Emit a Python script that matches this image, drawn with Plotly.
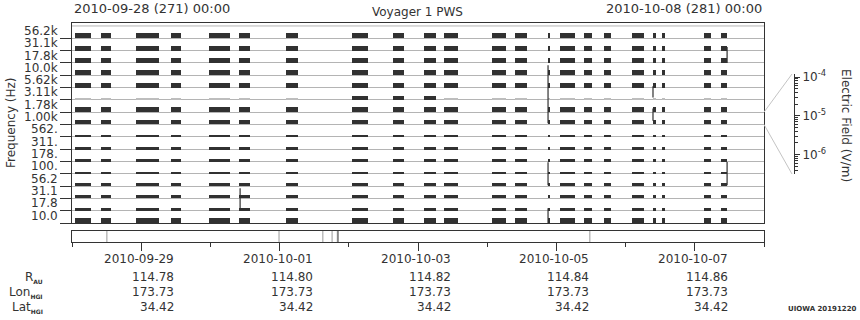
import plotly.graph_objects as go

# ---------------- data ----------------
freq_labels = ["10.0", "17.8", "31.1", "56.2", "100.", "178.", "311.", "562.",
               "1.00k", "1.78k", "3.11k", "5.62k", "10.0k", "17.8k", "31.1k", "56.2k"]
# data intervals, hours after 2010-09-28 00:00
seg_start = [1.0, 10.1, 22.2, 34.3, 47.5, 57.9, 74.2, 97.1, 111.3, 122.1, 129.0,
             145.7, 153.6, 165.1, 169.2, 177.6, 184.5, 194.2, 201.5, 204.6, 219.2, 225.1]
seg_end = [6.5, 13.5, 30.2, 37.8, 54.8, 61.7, 78.4, 102.7, 115.1, 126.2, 133.9,
           150.5, 157.8, 165.8, 174.4, 180.3, 186.9, 198.4, 202.5, 205.7, 221.6, 227.2]
# signal height per channel (in row units)
row_height = [0.40, 0.25, 0.30, 0.25, 0.16, 0.16, 0.16, 0.16,
              0.40, 0.40, 0.12, 0.40, 0.40, 0.40, 0.40, 0.40]
# 3.11k channel: which intervals show strong signal
row10_dark = [0, 0, 0, 0, 0, 0, 0, 1, 1, 1, 0, 0, 0, 0, 0, 0, 0, 0, 0, 0, 0, 0]
# spikes (time, low row, high row)
spike_time = [58.3, 165.1, 165.1, 165.1, 201.5, 201.5, 227.2, 227.2]
spike_lo = [1.03, 8.1, 3.07, 0.0, 10.2, 8.3, 13.0, 3.07]
spike_hi = [2.82, 12.8, 4.94, 1.2, 11.1, 9.3, 14.3, 4.96]
# events in lower strip
event_time = [12.1, 71.8, 87.0, 90.2, 92.2, 179.6]
event_width = [1, 1, 1, 1, 2, 1]
# lower axis
day_ticks = [24, 72, 120, 168, 216]
minor_day_ticks = [0, 48, 96, 144, 192, 240]
day_labels = ["2010-09-29", "2010-10-01", "2010-10-03", "2010-10-05", "2010-10-07"]
r_au = ["114.78", "114.80", "114.82", "114.84", "114.86"]
lon_hgi = ["173.73", "173.73", "173.73", "173.73", "173.73"]
lat_hgi = ["34.42", "34.42", "34.42", "34.42", "34.42"]
ef_major = [1e-6, 1e-5, 1e-4]
ef_labels = ["10<sup>-6</sup>", "10<sup>-5</sup>", "10<sup>-4</sup>"]

# ---------------- geometry ----------------
W, H = 860, 320
L, RM, RA = 72, 764, 800
T, BM, BA = 23, 223, 242
PW, PH = RA - L, BA - T
YTOP = 16.24


def px_x(p):
    return (p - L) / PW


def px_y(p):
    return (BA - p) / PH


y_main_dom = [px_y(BM), 1.0]


def row_paper(r):
    return y_main_dom[0] + r / YTOP * (y_main_dom[1] - y_main_dom[0])


INK = "#333333"
BAR = "#313131"
GRID = "#b4b4b4"
FONT = "DejaVu Sans"

fig = go.Figure()

# bars
bx, bw, bb, bh, bc = [], [], [], [], []
for r in range(len(freq_labels)):
    for k, (s, e) in enumerate(zip(seg_start, seg_end)):
        h = row_height[r]
        col = BAR
        if r == 10:
            if row10_dark[k]:
                h = 0.30
            else:
                col = "#bdbdbd"
        bx.append((s + e) / 2)
        bw.append(e - s)
        bb.append(r)
        bh.append(h)
        bc.append(col)
fig.add_trace(go.Bar(x=bx, y=bh, base=bb, width=bw, marker=dict(color=bc, line=dict(width=0)),
                     xaxis="x", yaxis="y", showlegend=False, hoverinfo="skip"))

# spikes
sx, sy = [], []
for t, a, b in zip(spike_time, spike_lo, spike_hi):
    sx += [t, t, None]
    sy += [a, b, None]
fig.add_trace(go.Scatter(x=sx, y=sy, mode="lines", line=dict(color=BAR, width=1.2),
                         xaxis="x", yaxis="y", showlegend=False, hoverinfo="skip"))

# events strip
for wdt in sorted(set(event_width)):
    ex, ey = [], []
    for t, w in zip(event_time, event_width):
        if w == wdt:
            ex += [t, t, None]
            ey += [0, 1, None]
    fig.add_trace(go.Scatter(x=ex, y=ey, mode="lines",
                             line=dict(color="#999999" if wdt == 1 else "#888888", width=wdt),
                             xaxis="x2", yaxis="y2", showlegend=False, hoverinfo="skip"))

# dummy for colour scale axis
fig.add_trace(go.Scatter(x=[0], y=[1e-5], mode="markers", marker=dict(opacity=0),
                         xaxis="x3", yaxis="y3", showlegend=False, hoverinfo="skip"))

minor_ef = [m * 10.0 ** e for e in (-7, -6, -5) for m in range(2, 10)]

fig.update_layout(
    width=W, height=H,
    margin=dict(l=L, r=W - RA, t=T, b=H - BA, pad=0),
    paper_bgcolor="white", plot_bgcolor="white",
    font=dict(family=FONT, size=12, color=INK),
    barmode="overlay", bargap=0,
    xaxis=dict(domain=[0, px_x(RM)], range=[0, 240], anchor="y",
               showline=True, mirror=True, linecolor=INK, linewidth=1,
               showgrid=False, zeroline=False, ticks="", showticklabels=False),
    yaxis=dict(domain=y_main_dom, range=[0, YTOP], anchor="x",
               showline=True, mirror=True, linecolor=INK, linewidth=1,
               tickmode="array", tickvals=list(range(16)), ticks="outside", ticklen=11,
               tickcolor=INK, showticklabels=False,
               showgrid=True, gridcolor=GRID, gridwidth=1, zeroline=False),
    xaxis2=dict(domain=[0, px_x(RM)], range=[0, 240], anchor="y2",
                showline=True, mirror=True, linecolor=INK, linewidth=1,
                showgrid=False, zeroline=False,
                tickmode="array", tickvals=day_ticks, ticks="outside", ticklen=8, tickcolor=INK,
                showticklabels=False,
                minor=dict(tickmode="array", tickvals=minor_day_ticks, ticks="outside",
                           ticklen=4, tickcolor=INK, showgrid=False)),
    yaxis2=dict(domain=[0, px_y(231)], range=[0, 1], anchor="x2",
                showline=True, mirror=True, linecolor=INK, linewidth=1,
                showgrid=False, zeroline=False, ticks="", showticklabels=False),
    xaxis3=dict(domain=[px_x(790), 1], anchor="y3", visible=False, range=[0, 1]),
    yaxis3=dict(type="log", domain=[px_y(174), px_y(74)], range=[-6.5, -3.92],
                anchor="free", position=px_x(794), side="right",
                showline=True, linecolor=INK, linewidth=1, showgrid=False, zeroline=False,
                tickmode="array", tickvals=ef_major, ticktext=ef_labels,
                ticks="outside", ticklen=5, tickcolor=INK,
                tickfont=dict(size=12, color=INK),
                minor=dict(tickmode="array", tickvals=minor_ef, ticks="outside",
                           ticklen=3, tickcolor=INK, showgrid=False)),
)

shapes = []
# gray line at top row boundary
shapes.append(dict(type="line", xref="x", yref="y", x0=0, x1=240, y0=16, y1=16,
                   line=dict(color=GRID, width=1), layer="below"))
# connectors to colour scale
shapes.append(dict(type="line", xref="paper", yref="paper",
                   x0=px_x(RM), y0=row_paper(9), x1=px_x(792), y1=px_y(74),
                   line=dict(color="#c4c4c4", width=1)))
shapes.append(dict(type="line", xref="paper", yref="paper",
                   x0=px_x(RM), y0=row_paper(8), x1=px_x(792), y1=px_y(174),
                   line=dict(color="#c4c4c4", width=1)))
fig.update_layout(shapes=shapes)

ann = []


def txt(text, x, y, xanchor="center", size=12, xref="paper", yref="paper", angle=0, xshift=0):
    ann.append(dict(text=text, x=x, y=y, xref=xref, yref=yref, xanchor=xanchor,
                    yanchor="middle", showarrow=False, textangle=angle, xshift=xshift,
                    font=dict(family=FONT, size=size, color=INK)))


txt("2010-09-28 (271) 00:00", px_x(72), px_y(8.5), "left", 13)
txt("2010-10-08 (281) 00:00", px_x(764), px_y(8.5), "right", 13)
txt("Voyager 1 PWS", px_x(417.5), px_y(11.5), "center", 12)
txt("Frequency (Hz)", px_x(11), px_y(123), "center", 12, angle=-90)
txt("Electric Field (V/m)", px_x(846), px_y(125), "center", 12, angle=90)
for i, lab in enumerate(freq_labels):
    txt(lab, px_x(60), i + 0.6, "right", 12, yref="y")
rows_y = [px_y(259), px_y(277), px_y(292), px_y(307)]
for k, t in enumerate(day_ticks):
    for val, yy in zip([day_labels[k], r_au[k], lon_hgi[k], lat_hgi[k]], rows_y):
        txt(val, t, yy, "right", 12, xref="x", xshift=35)
SUB = "<sub><span style='font-size:6px;font-weight:bold'>%s</span></sub>"
txt("R" + SUB % "AU", px_x(45), rows_y[1], "right", 12)
txt("Lon" + SUB % "HGI", px_x(45), rows_y[2], "right", 12)
txt("Lat" + SUB % "HGI", px_x(45), rows_y[3], "right", 12)
txt("<b>UIOWA 20191220</b>", px_x(859), px_y(309), "right", 7)
fig.update_layout(annotations=ann)

fig.write_html("out.html")
